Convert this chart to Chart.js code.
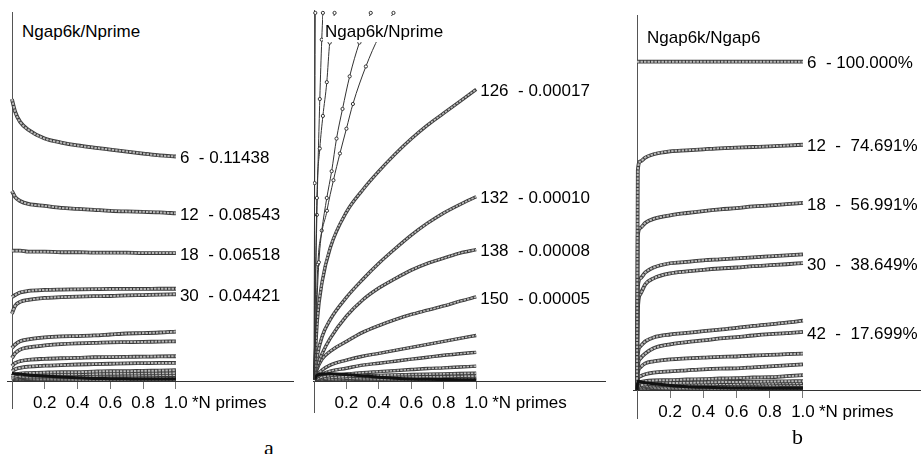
<!DOCTYPE html>
<html lang="en">
<head>
    <meta charset="UTF-8">
    <title>Ngap6k ratios</title>
    <style>
        body {
            margin: 0;
            width: 921px;
            height: 454px;
            position: relative;
            overflow: hidden;
            background: #fff;
            font-family: "Liberation Sans", Arial, sans-serif;
        }
        canvas { position: absolute; top: 0; }
        .title {
            position: absolute;
            font-size: 17px;
            line-height: 20px;
            padding: 6px 2px 0 2px;
            background: #fff;
            color: #000;
            white-space: pre;
        }
        .caption {
            position: absolute;
            font-family: "Liberation Serif", "Times New Roman", serif;
            font-size: 22px;
            line-height: 24px;
            color: #000;
        }
    </style>
</head>
<body>
    <canvas id="chartA" width="300" height="430" style="left:0px"></canvas>
    <canvas id="chartB" width="310" height="430" style="left:300px"></canvas>
    <canvas id="chartC" width="311" height="440" style="left:610px"></canvas>

    <div class="title" style="left:20px;top:16px">Ngap6k/Nprime</div>
    <div class="title" style="left:323px;top:16px">Ngap6k/Nprime</div>
    <div class="title" style="left:645px;top:22px">Ngap6k/Ngap6</div>

    <div class="caption" style="left:264px;top:436px">a</div>
    <div class="caption" style="left:792px;top:425px">b</div>

    <script src="https://cdn.jsdelivr.net/npm/chart.js"></script>
    <script>
        const FONT = '"Liberation Sans", Arial, sans-serif';
        const xTicks = [0.2, 0.4, 0.6, 0.8, 1.0];

        // ---- panel a: Ngap6k / Nprime ----
        const xA = [0, 0.02, 0.05, 0.1, 0.2, 0.3, 0.4, 0.5, 0.6, 0.7, 0.8, 0.9, 1.0];
        const a6  = [0.1436, 0.1371, 0.1320, 0.1280, 0.1235, 0.1215, 0.1200, 0.1189, 0.1179, 0.1169, 0.1159, 0.1149, 0.11438];
        const a12 = [0.0968, 0.0937, 0.0917, 0.0902, 0.0892, 0.0882, 0.0877, 0.0872, 0.0867, 0.0864, 0.0862, 0.0859, 0.08543];
        const a18 = [0.0664, 0.0664, 0.0664, 0.0659, 0.0659, 0.0656, 0.0656, 0.0654, 0.0654, 0.0654, 0.0652, 0.0652, 0.06518];
        const a24 = [0.0428, 0.0438, 0.0451, 0.0459, 0.0464, 0.0466, 0.0467, 0.0468, 0.0469, 0.0469, 0.0469, 0.0470, 0.0470];
        const a30 = [0.0343, 0.0383, 0.0403, 0.0413, 0.0423, 0.0427, 0.0430, 0.0432, 0.0433, 0.0436, 0.0438, 0.0440, 0.04421];
        const a36 = [0.0168, 0.0186, 0.0202, 0.0212, 0.0222, 0.0227, 0.0229, 0.0232, 0.0237, 0.0242, 0.0244, 0.0247, 0.0252];
        const a42 = [0.0117, 0.0141, 0.0160, 0.0171, 0.0181, 0.0188, 0.0192, 0.0194, 0.0197, 0.0198, 0.0199, 0.0201, 0.0202];
        const a48 = [0.0076, 0.0091, 0.0101, 0.0108, 0.0113, 0.0116, 0.0118, 0.0121, 0.0122, 0.0123, 0.0124, 0.0125, 0.0126];
        const a54 = [0.0050, 0.0060, 0.0067, 0.0073, 0.0078, 0.0081, 0.0084, 0.0086, 0.0088, 0.0090, 0.0091, 0.0092, 0.0092];
        const a60 = [0.0025, 0.0033, 0.0038, 0.0040, 0.0043, 0.0045, 0.0045, 0.0048, 0.0050, 0.0050, 0.0052, 0.0053, 0.0055];
        const a66 = [0.0015, 0.0022, 0.0027, 0.0030, 0.0032, 0.0034, 0.0035, 0.0036, 0.0037, 0.0038, 0.0039, 0.0040, 0.0040];
        const a72 = [0.0012, 0.0017, 0.0020, 0.0022, 0.0024, 0.0025, 0.0026, 0.0027, 0.0028, 0.0028, 0.0029, 0.0030, 0.0030];
        const a78 = [0.0008, 0.0012, 0.0014, 0.0016, 0.0018, 0.0019, 0.0020, 0.0020, 0.0021, 0.0021, 0.0022, 0.0022, 0.0023];
        const a84 = [0.0005, 0.0008, 0.0009, 0.0010, 0.0011, 0.0012, 0.0013, 0.0013, 0.0014, 0.0014, 0.0015, 0.0015, 0.0015];
        const a90 = [0.0003, 0.0004, 0.0005, 0.0005, 0.0006, 0.0006, 0.0007, 0.0007, 0.0007, 0.0007, 0.0008, 0.0008, 0.0008];
        const aDark = [0.0040, 0.0037, 0.0035, 0.0031, 0.0025, 0.0020, 0.0016, 0.0013, 0.0012, 0.0011, 0.0010, 0.0010, 0.0010];
        const seriesA = [a6, a12, a18, a24, a30, a36, a42, a48, a54, a60, a66, a72, a78, a84, a90];
        const labelsA = ['6  - 0.11438', '12  - 0.08543', '18  - 0.06518', '', '30  - 0.04421'];

        // ---- middle panel: Ngap6k / Nprime, values x 1e-5 ----
        const xB = [0, 0.02, 0.05, 0.1, 0.2, 0.3, 0.4, 0.5, 0.6, 0.7, 0.8, 0.9, 1.0];
        const b126 = [0, 3.5, 5.8, 7.8, 9.9, 11.2, 12.3, 13.3, 14.2, 15.0, 15.7, 16.4, 17.1];
        const b132 = [0, 1.45, 2.6, 3.6, 4.9, 5.95, 6.9, 7.75, 8.55, 9.25, 9.85, 10.35, 10.8];
        const b138 = [0, 0.87, 1.6, 2.5, 3.8, 4.75, 5.45, 6.0, 6.5, 6.9, 7.2, 7.5, 7.7];
        const b150 = [0, 0.7, 1.28, 1.74, 2.32, 2.85, 3.25, 3.6, 3.9, 4.15, 4.4, 4.68, 4.93];
        const bLow1 = [0, 0.35, 0.64, 0.93, 1.22, 1.45, 1.62, 1.8, 1.97, 2.15, 2.32, 2.5, 2.67];
        const bLow2 = [0, 0.23, 0.41, 0.58, 0.75, 0.93, 1.04, 1.16, 1.28, 1.39, 1.51, 1.6, 1.68];
        const bLow3 = [0, 0.12, 0.23, 0.32, 0.41, 0.49, 0.55, 0.61, 0.67, 0.73, 0.77, 0.82, 0.87];
        const bLow4 = [0, 0.09, 0.15, 0.2, 0.26, 0.3, 0.33, 0.36, 0.38, 0.4, 0.42, 0.44, 0.46];
        const bLow5 = [0, 0.05, 0.09, 0.12, 0.16, 0.19, 0.21, 0.23, 0.24, 0.25, 0.26, 0.28, 0.29];
        const bLow6 = [0, 0.03, 0.05, 0.07, 0.09, 0.11, 0.12, 0.13, 0.14, 0.15, 0.16, 0.16, 0.17];
        const bLow7 = [0, 0.02, 0.03, 0.04, 0.05, 0.06, 0.06, 0.07, 0.07, 0.08, 0.08, 0.09, 0.09];
        const bDark = [0, 0.35, 0.4, 0.42, 0.38, 0.3, 0.22, 0.16, 0.12, 0.1, 0.09, 0.08, 0.08];
        const seriesB = [b126, b132, b138, b150, bLow1, bLow2, bLow3, bLow4, bLow5, bLow6, bLow7];
        const labelsB = ['126  - 0.00017', '132  - 0.00010', '138  - 0.00008', '150  - 0.00005'];

        // steep curves that leave the top of the middle panel
        const s1x = [0, 0.03, 0.08, 0.12, 0.16, 0.2, 0.24, 0.32, 0.40, 0.49];
        const s1y = [0, 6.96, 9.98, 11.77, 13.34, 14.79, 16.24, 18.44, 20.18, 21.58];
        const s2x = [0, 0.024, 0.048, 0.079, 0.109, 0.139, 0.176, 0.22, 0.28, 0.35];
        const s2y = [0, 6.84, 8.82, 10.73, 12.3, 14.21, 15.95, 17.86, 19.84, 21.58];
        const s3x = [0, 0.018, 0.036, 0.055, 0.079, 0.097, 0.127];
        const s3y = [0, 10.73, 13.63, 15.54, 17.52, 19.84, 21.58];
        const s4x = [0, 0.018, 0.036, 0.048, 0.055];
        const s4y = [0, 9.74, 16.53, 20.01, 21.58];
        const s5x = [0, 0.004, 0.008];
        const s5y = [0, 11.6, 21.58];

        // ---- panel b: Ngap6k / Ngap6, percent ----
        const xC = [0, 0.005, 0.02, 0.05, 0.1, 0.2, 0.3, 0.4, 0.5, 0.6, 0.7, 0.8, 0.9, 1.0];
        const c6  = [100, 100, 100, 100, 100, 100, 100, 100, 100, 100, 100, 100, 100, 100];
        const c12 = [0, 66.9, 69.6, 70.8, 71.8, 72.7, 73.0, 73.3, 73.6, 73.8, 74.0, 74.2, 74.45, 74.691];
        const c18 = [0, 47.0, 49.4, 50.9, 52.1, 53.2, 53.9, 54.5, 55.0, 55.4, 55.9, 56.2, 56.6, 56.991];
        const c24 = [0, 31.3, 34.0, 35.8, 37.3, 38.6, 39.0, 39.5, 39.8, 40.1, 40.4, 40.7, 41.0, 41.3];
        const c30 = [0, 24.4, 29.2, 32.2, 34.0, 35.5, 36.1, 36.6, 37.0, 37.3, 37.7, 38.0, 38.3, 38.649];
        const c36 = [0, 10.8, 13.3, 14.8, 16.0, 16.9, 17.4, 17.9, 18.4, 18.9, 19.5, 20.0, 20.5, 21.1];
        const c42 = [0, 7.2, 9.6, 11.1, 12.7, 13.9, 14.6, 15.1, 15.7, 16.1, 16.6, 17.0, 17.3, 17.699];
        const c48 = [0, 5.1, 6.9, 8.1, 8.7, 9.3, 9.6, 9.85, 10.1, 10.2, 10.5, 10.7, 10.9, 11.1];
        const c54 = [0, 3.3, 4.2, 4.8, 5.3, 5.7, 6.0, 6.3, 6.5, 6.6, 6.9, 7.2, 7.5, 7.8];
        const c60 = [0, 1.8, 2.4, 2.7, 2.9, 3.0, 3.2, 3.3, 3.5, 3.6, 3.8, 3.9, 4.2, 4.5];
        const c66 = [0, 1.0, 1.4, 1.7, 1.9, 2.1, 2.2, 2.3, 2.4, 2.45, 2.5, 2.6, 2.65, 2.7];
        const c72 = [0, 0.7, 1.0, 1.25, 1.4, 1.6, 1.7, 1.75, 1.8, 1.85, 1.9, 2.0, 2.05, 2.1];
        const c78 = [0, 0.5, 0.7, 0.85, 1.0, 1.1, 1.2, 1.25, 1.3, 1.35, 1.4, 1.45, 1.5, 1.5];
        const c84 = [0, 0.3, 0.4, 0.5, 0.6, 0.65, 0.7, 0.75, 0.78, 0.8, 0.83, 0.86, 0.88, 0.9];
        const c90 = [0, 0.15, 0.2, 0.25, 0.3, 0.33, 0.35, 0.37, 0.39, 0.4, 0.42, 0.43, 0.44, 0.45];
        const cDark = [0, 2.7, 2.5, 2.2, 1.9, 1.4, 1.0, 0.8, 0.7, 0.6, 0.6, 0.5, 0.5, 0.5];
        const seriesC = [c6, c12, c18, c24, c30, c36, c42, c48, c54, c60, c66, c72, c78, c84, c90];
        const labelsC = ['6  - 100.000%', '12  -  74.691%', '18  -  56.991%', '', '30  -  38.649%', '', '42  -  17.699%'];

        function pts(xs, ys) {
            return xs.map((x, i) => ({ x: x, y: ys[i] }));
        }

        // each curve: dashed light core over a dark rim, gives the beaded look
        function chainSets(xs, list, w) {
            const sets = [];
            list.forEach(ys => {
                sets.push({ data: pts(xs, ys), borderColor: '#b8b8b8', borderWidth: w, borderDash: [2.4, 1.1] });
                sets.push({ data: pts(xs, ys), borderColor: '#3c3c3c', borderWidth: w + 1.8 });
            });
            return sets;
        }

        function darkSet(xs, ys) {
            return { data: pts(xs, ys), borderColor: '#111', borderWidth: 3 };
        }

        function steepSet(xs, ys) {
            return {
                data: pts(xs, ys), borderColor: '#333', borderWidth: 1,
                pointRadius: 1.6, pointBackgroundColor: '#fff', pointBorderColor: '#333', pointBorderWidth: 1
            };
        }

        function endLabels(series, texts) {
            const out = [];
            texts.forEach((t, i) => {
                if (t) out.push({ text: t, y: series[i][series[i].length - 1] });
            });
            return out;
        }

        const panelExtras = {
            id: 'panelExtras',
            beforeDatasetsDraw(chart, args, o) {
                const { ctx, chartArea, scales } = chart;
                const x0 = Math.round(scales.x.getPixelForValue(0)) + 0.5;
                const yBase = scales.y.getPixelForValue(0);
                ctx.save();
                ctx.strokeStyle = '#555';
                ctx.lineWidth = 1;
                ctx.beginPath();
                ctx.moveTo(x0, chartArea.top);
                ctx.lineTo(x0, yBase + o.axisDrop);
                ctx.stroke();
                ctx.restore();
            },
            afterDatasetsDraw(chart, args, o) {
                const { ctx, scales } = chart;
                const xEnd = scales.x.getPixelForValue(1);
                ctx.save();
                ctx.font = '17px ' + FONT;
                ctx.fillStyle = '#000';
                ctx.textBaseline = 'middle';
                ctx.textAlign = 'left';
                o.labels.forEach(l => {
                    ctx.fillText(l.text, xEnd + 4, scales.y.getPixelForValue(l.y) + 2);
                });
                ctx.fillText('*N primes', xEnd + 16, scales.y.getPixelForValue(0) + 22);
                ctx.restore();
            }
        };

        function makeChart(id, cfg) {
            return new Chart(document.getElementById(id), {
                type: 'line',
                data: { datasets: cfg.datasets },
                plugins: [panelExtras],
                options: {
                    responsive: false,
                    animation: false,
                    events: [],
                    layout: { padding: cfg.padding },
                    elements: {
                        point: { radius: 0 },
                        line: { cubicInterpolationMode: 'monotone', fill: false }
                    },
                    plugins: {
                        legend: { display: false },
                        tooltip: { enabled: false },
                        panelExtras: { labels: cfg.labels, axisDrop: cfg.axisDrop }
                    },
                    scales: {
                        x: {
                            type: 'linear',
                            min: cfg.xMin,
                            max: cfg.xMax,
                            afterBuildTicks: s => { s.ticks = xTicks.map(v => ({ value: v })); },
                            ticks: {
                                callback: v => v.toFixed(1),
                                color: '#000',
                                font: { family: FONT, size: 17 },
                                padding: 4,
                                maxRotation: 0,
                                autoSkip: false
                            },
                            grid: { drawOnChartArea: false, tickLength: 8, color: '#777' },
                            border: { color: '#333' }
                        },
                        y: { display: false, min: 0, max: cfg.yMax }
                    }
                }
            });
        }

        makeChart('chartA', {
            datasets: [darkSet(xA, aDark)].concat(chainSets(xA, seriesA, 2)),
            labels: endLabels(seriesA, labelsA),
            padding: { left: 7, right: 7, top: 12, bottom: 12.6 },
            xMin: -0.03, xMax: 1.714, yMax: 0.188, axisDrop: 28
        });

        makeChart('chartB', {
            datasets: [
                steepSet(s1x, s1y), steepSet(s2x, s2y), steepSet(s3x, s3y),
                steepSet(s4x, s4y), steepSet(s5x, s5y), darkSet(xB, bDark)
            ].concat(chainSets(xB, seriesB, 1.6)),
            labels: endLabels(seriesB, labelsB),
            padding: { left: 13, right: 0, top: 10, bottom: 12.6 },
            xMin: -0.006, xMax: 1.794, yMax: 21.75, axisDrop: 32
        });

        makeChart('chartC', {
            datasets: [darkSet(xC, cDark)].concat(chainSets(xC, seriesC, 2)),
            labels: endLabels(seriesC, labelsC),
            padding: { left: 23, right: 0, top: 15, bottom: 13.6 },
            xMin: -0.024, xMax: 1.711, yMax: 114.2, axisDrop: 29
        });
    </script>
</body>
</html>
